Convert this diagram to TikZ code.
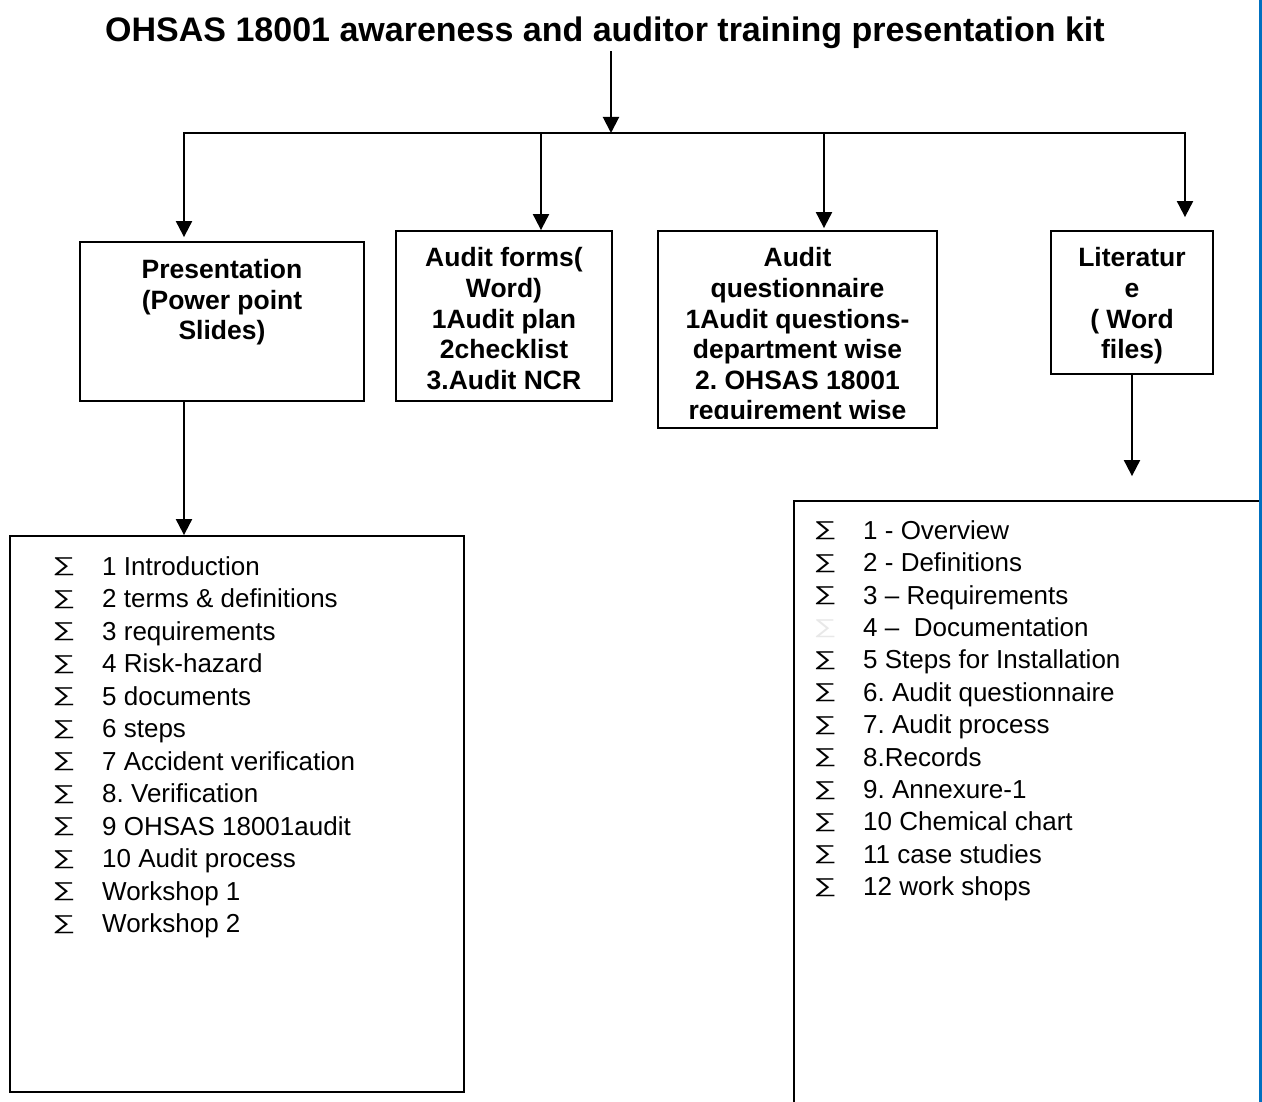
\documentclass[tikz,border=0pt]{standalone}
\usepackage{fontspec}
\setmainfont{Liberation Sans}
\usetikzlibrary{arrows.meta}
\definecolor{edgeblue}{RGB}{0,112,192}
\frenchspacing
\tikzset{
  box/.style={draw, line width=1.8pt, inner sep=0pt},
  boxtext/.style={anchor=north, inner sep=0pt, align=center, font=\fontsize{26.5}{30.6}\selectfont\bfseries},
  conn/.style={line width=2pt, line join=miter},
  arr/.style={conn, -{Triangle[width=16pt,length=16pt]}},
  item/.style={anchor=base west, inner sep=0pt, font=\fontsize{26}{32}\selectfont},
}
\newcommand{\sigglyph}{\hspace*{-2pt}\raisebox{\dimexpr\depth-0.8pt\relax}{\resizebox*{23pt}{18pt}{∑}}}
\newcommand{\sigitem}{\makebox[47.7pt][l]{\sigglyph}}
\newcommand{\lightsigitem}{\makebox[47.7pt][l]{\color{black!9}\sigglyph}}
\begin{document}
\begin{tikzpicture}[x=1pt,y=-1pt]
\clip (0,0) rectangle (1262,1102);
% title
\node[anchor=base, inner sep=0pt, font=\fontsize{34}{40}\selectfont\bfseries] (title) at (605,42) {OHSAS 18001 awareness and auditor training presentation kit};
% boxes
\node[box, minimum width=284pt, minimum height=159pt] (pres) at (222,321.5) {};
\node[box, minimum width=216pt, minimum height=170pt] (forms) at (504,316) {};
\node[box, minimum width=279pt, minimum height=197pt] (quest) at (797.5,329.5) {};
\node[box, minimum width=162pt, minimum height=143pt] (lit) at (1132,302.5) {};
\node[box, minimum width=454pt, minimum height=556pt] (llist) at (237,814) {};
\node[box, minimum width=467pt, minimum height=629pt] (rlist) at (1027.5,815.5) {};
% box texts
\node[boxtext] (prestext) at (222,259) {Presentation\\(Power point\\Slides)};
\node[boxtext] (formstext) at (504,247.5) {Audit forms(\\Word)\\1Audit plan\\2checklist\\3.Audit NCR};
\begin{scope}
\clip (quest.north west) rectangle (937,418);
\node[boxtext] (questtext) at (797.5,247.5) {Audit\\questionnaire\\1Audit questions-\\department wise\\2. OHSAS 18001\\requirement wise};
\end{scope}
\node[boxtext] (littext) at (1132,247.5) {Literatur\\e\\( Word\\files)};
% connectors
\coordinate (hub) at (611,133);
\coordinate (c1) at (184,133);
\coordinate (c2) at (541,133);
\coordinate (c3) at (824,133);
\coordinate (c4) at (1185,133);
\draw[arr, shorten <=2pt] (title.south -| hub) -- (hub);
\draw[arr, shorten >=4pt] (c4) -- (c1) -- (c1 |- pres.north);
\draw[arr, shorten >=13pt] (c1) -- (c4) -- (c4 |- lit.north);
\draw[arr] (c2) -- (c2 |- forms.north);
\draw[arr, shorten >=2pt] (c3) -- (c3 |- quest.north);
\draw[arr] (c1 |- pres.south) -- (c1 |- llist.north);
\draw[arr, shorten >=24pt] (lit.south) -- (lit.south |- rlist.north);
% left list
\foreach \t [count=\i] in {{1 Introduction},{2 terms \& definitions},{3 requirements},{4 Risk-hazard},{5 documents},{6 steps},{7 Accident verification},{8. Verification},{9 OHSAS 18001audit},{10 Audit process},{Workshop 1},{Workshop 2}}
  \node[item] (L\i) at (54.3,{575+32.5*(\i-1)}) {\sigitem\t};
% right list
\foreach \t [count=\i] in {{1 - Overview},{2 - Definitions},{3 – Requirements},{4 – \ Documentation},{5 Steps for Installation},{6. Audit questionnaire},{7. Audit process},{8.Records},{9. Annexure-1},{10 Chemical chart},{11 case studies},{12 work shops}}
  \node[item] (R\i) at (815.3,{539.3+32.4*(\i-1)}) {\ifnum\i=4 \lightsigitem\else\sigitem\fi\t};
% page edge line
\draw[edgeblue, line width=3pt] (1260.5,0) -- (1260.5,1102);
\end{tikzpicture}
\end{document}
